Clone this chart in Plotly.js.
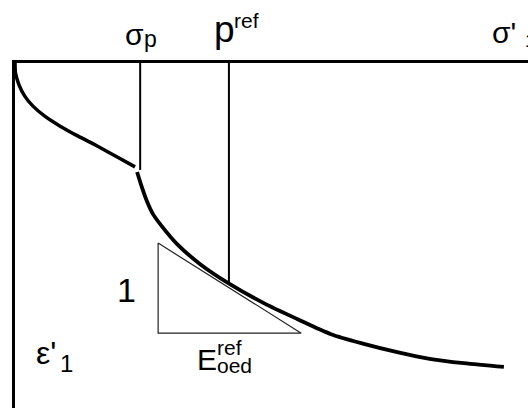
<!DOCTYPE html>
<html>
<head>
<meta charset="utf-8">
<script src="https://cdn.plot.ly/plotly-3.0.1.min.js"></script>
<style>html,body{margin:0;padding:0;background:#fff;}#chart{width:528px;height:408px;}</style>
</head>
<body>
<div id="chart"></div>
<script>
// Schematic oedometer curve (stress sigma'1 to the right, strain eps'1 downward), arbitrary units 0-100
const preconStress = [0, 0.1, 0.8, 1.9, 3.5, 5.8, 8.8, 12.3, 16.2, 20.1, 23.4];
const preconStrain = [0, 2.9, 6.4, 9.6, 12.5, 15.4, 18.3, 21.2, 24.2, 27.4, 30.1];

const virginStress = [23.8, 24.6, 25.7, 26.9, 28.3, 31.6, 36.1, 41.9, 48.5, 55.0, 61.6, 68.0, 74.5, 81.1, 87.5, 95.3];
const virginStrain = [31.6, 35.4, 40.0, 43.8, 46.7, 52.5, 58.3, 64.1, 69.6, 74.2, 78.6, 81.4, 83.8, 85.8, 87.0, 88.1];

const sigmaPStress = [24.4, 24.4];
const sigmaPStrain = [0, 31.0];

const pRefStress = [41.7, 41.7];
const pRefStrain = [0, 63.8];

const triStress = [27.9, 27.9, 55.8, 27.9];
const triStrain = [52.2, 78.3, 78.3, 52.2];

const FONT = 'Liberation Sans, Arial, sans-serif';

const traces = [
  {x: preconStress, y: preconStrain, mode: 'lines', line: {color: '#000', width: 3.5, shape: 'spline', smoothing: 0.6}},
  {x: virginStress, y: virginStrain, mode: 'lines', line: {color: '#000', width: 3.8, shape: 'spline', smoothing: 0.8}},
  {x: sigmaPStress, y: sigmaPStrain, mode: 'lines', line: {color: '#000', width: 2}},
  {x: pRefStress, y: pRefStrain, mode: 'lines', line: {color: '#000', width: 2}},
  {x: triStress, y: triStrain, mode: 'lines', line: {color: '#222', width: 1.2}}
];

function lab(text, x, y, size, xanchor) {
  return {text: text, x: x, y: y, xref: 'paper', yref: 'paper', xanchor: xanchor || 'left', yanchor: 'middle',
          showarrow: false, font: {family: FONT, size: size, color: '#000'}};
}

const layout = {
  width: 528, height: 408,
  margin: {l: 15, r: 0, t: 63, b: 0},
  paper_bgcolor: '#fff', plot_bgcolor: '#fff',
  showlegend: false,
  xaxis: {range: [0, 100], side: 'top', showline: true, linewidth: 3, linecolor: '#000',
          showgrid: false, zeroline: false, ticks: '', showticklabels: false, fixedrange: true},
  yaxis: {range: [100, 0], showline: true, linewidth: 3, linecolor: '#000',
          showgrid: false, zeroline: false, ticks: '', showticklabels: false, fixedrange: true},
  annotations: [
    lab('σ', 0.2105, 1.0823, 30),
    lab('p', 0.2466, 1.0696, 23),
    lab('p', 0.3832, 1.0980, 37),
    lab('ref', 0.4222, 1.1226, 21),
    lab("σ'", 0.9261, 1.0881, 30),
    lab('1', 0.9903, 1.0655, 19),
    lab('1', 0.2164, 0.3420, 34, 'center'),
    lab("ε'", 0.0370, 0.1597, 32),
    lab('1', 0.0846, 0.1284, 24),
    lab('E', 0.3501, 0.1403, 30),
    lab('ref', 0.3890, 0.1748, 21),
    lab('oed', 0.3899, 0.1226, 21)
  ]
};

Plotly.newPlot('chart', traces, layout, {displayModeBar: false, staticPlot: true});
</script>
</body>
</html>
